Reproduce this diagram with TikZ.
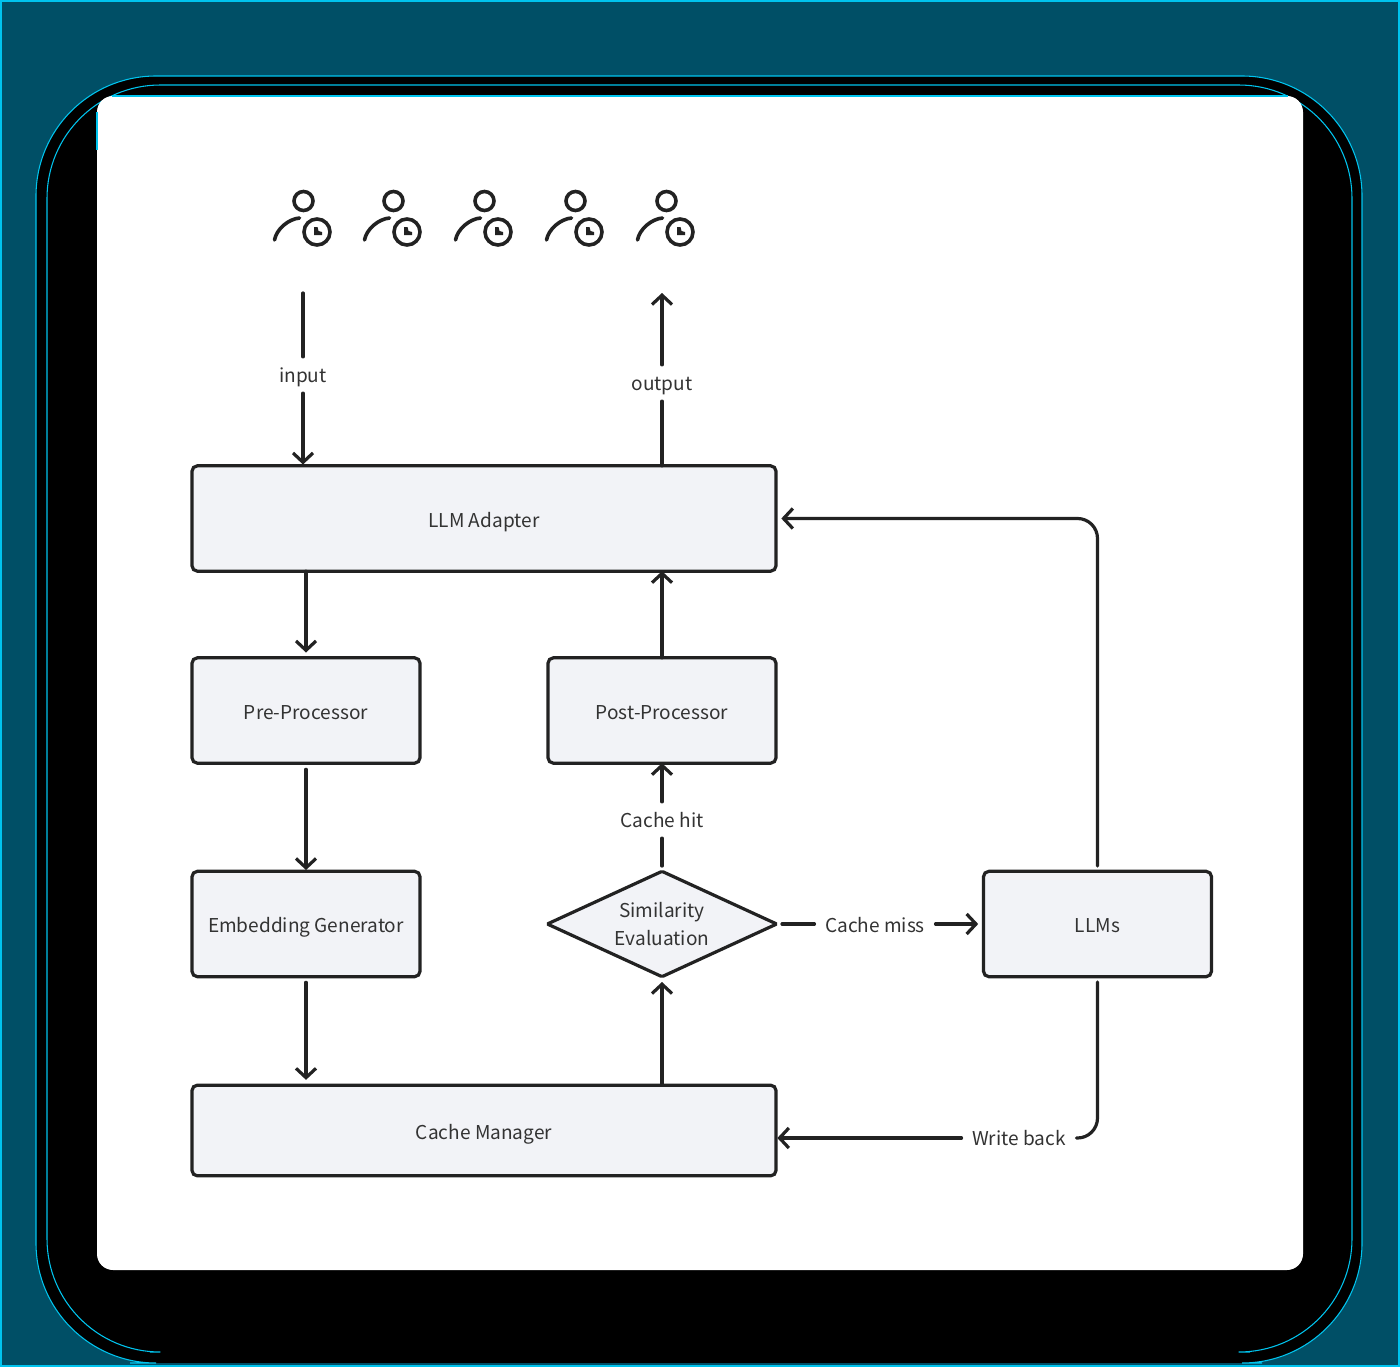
\documentclass[tikz,border=0pt]{standalone}
\usepackage{fontspec}
\setmainfont{Noto Sans CJK SC}
\usetikzlibrary{arrows.meta,shapes.geometric}
\definecolor{boxfill}{HTML}{F2F3F7}
\definecolor{inkline}{HTML}{222222}
\definecolor{inktext}{HTML}{333333}
\definecolor{bandteal}{HTML}{004F66}
\definecolor{bandline}{HTML}{00C4EE}
\tikzset{
  block/.style={draw=inkline,fill=boxfill,line width=2.4pt,rounded corners=4pt,text=inktext,
    font=\fontsize{14.3}{20.5}\selectfont,outer sep=0pt,inner sep=0pt,minimum width=171pt,minimum height=79pt,
    text height=15.2pt,text depth=2pt},
  wideblock/.style={block,minimum width=438pt},
  decision/.style={block,diamond,rounded corners=1pt,aspect=2.15,minimum width=172pt,align=center,
    text height=,text depth=},
  tag/.style={text=inktext,font=\fontsize{14.3}{20}\selectfont,inner xsep=8pt,inner ysep=6pt,outer sep=0pt,
    text height=13.2pt,text depth=2pt},
  flow/.style={draw=inkline,line width=2.4pt,line cap=round},
  flowto/.style={flow,-{Straight Barb[length=7pt,width=15pt,line width=2.4pt]}},
  usericon/.pic={
    \draw[flow,line width=2.7pt] (0,0) circle (9.5);
    \draw[flow,line width=2.7pt] (-29,-39) .. controls (-27,-28) and (-15,-18) .. (-4,-17);
    \draw[flow,line width=2.7pt] (13.5,-31) circle (13);
    \fill[inkline] (10.5,-26) -- (10.5,-34) -- (18.5,-34) -- (18.5,-31) -- (15,-30) -- (14,-26) -- cycle;
  },
}
\begin{document}
\begin{tikzpicture}[x=0.75pt,y=0.75pt,yscale=-1]
\useasboundingbox (0,0) rectangle (1400,1367);

% backdrop
\fill[black] (0,0) rectangle (1400,1367);
\fill[bandteal,even odd rule] (0,0) rectangle (1400,1367) [rounded corners=90pt] (36,76) rectangle (1362,1363);
\draw[bandline,line width=0.8pt] (1,1) rectangle (1399,1366);
\draw[bandline,line width=0.8pt,rounded corners=90pt] (130,1363) -- (36,1363) -- (36,76) -- (1362,76) -- (1362,1363) -- (1262,1363);
\draw[bandline,line width=0.8pt,rounded corners=85pt] (150,1352) -- (47,1352) -- (47,85) -- (1352,85) -- (1352,1352) -- (1250,1352);
\fill[white,rounded corners=12pt] (97,96) rectangle (1303,1270);
\draw[bandline,line width=0.8pt] (97,150) -- (97,112) (112,96) -- (1288,96);

% users
\foreach \px in {303.5,393.5,484.5,575.5,666.5}
  \pic at (\px,201) {usericon};

% blocks
\node[wideblock] (adapter) at (484,518.5) {LLM Adapter};
\node[block] (pre) at (306,710.5) {Pre-Processor};
\node[block] (embed) at (306,924) {Embedding Generator};
\node[wideblock,minimum height=68pt] (manager) at (484,1130.5) {Cache Manager};
\node[block] (post) at (662,710.5) {Post-Processor};
\node[decision] (similarity) at (662,924) {Similarity\\Evaluation};
\node[block] (llms) at (1097.5,924) {LLMs};

% labels on the lines
\node[tag] (input) at (303,375) {input};
\node[tag] (output) at (662,383) {output};
\node[tag] (hit) at (662,820) {Cache hit};
\node[tag] (miss) at (875,925) {Cache miss};
\node[tag] (writeback) at (1019,1138) {Write back};
\coordinate (inputtop) at (303,293);
\coordinate (outputtop) at (662,293);
\coordinate (backcorner) at (1097.5,1138);

% left column
\draw[flow] (inputtop) -- (input);
\draw[flowto,shorten >=1pt] (input) -- (input |- adapter.north);
\draw[flowto] (pre.north |- adapter.south) -- ([yshift=-4pt]pre.north);
\draw[flowto,shorten <=4pt] (pre) ++(0,53.5) -- ([yshift=-1pt]embed.north);
\draw[flowto,shorten <=4pt] (embed) ++(0,53) -- ([yshift=-4pt]embed.south |- manager.north);

% right column
\draw[flow] (post.north |- adapter.north) -- (output);
\draw[flowto] (output) -- (outputtop);
\draw[flowto] (post.north) -- (post.north |- adapter.south);
\draw[flow,shorten <=4pt] (similarity.north) -- (hit);
\draw[flowto] (hit) -- (post.south);
\draw[flowto,shorten >=4pt] (similarity.south |- manager.north) -- (similarity.south);

% miss and write back
\draw[flow,shorten <=4pt] (similarity.east) -- (miss.west |- similarity.east);
\draw[flowto,shorten >=4pt] (miss.east |- llms.west) -- (llms.west);
\draw[flowto,rounded corners=15pt,shorten <=4pt,shorten >=4pt] (llms.north) -- (llms.north |- adapter.east) -- (adapter.east);
\draw[flow,rounded corners=15pt,shorten <=4pt] (llms.south) -- (backcorner) -- (writeback.east |- backcorner);
\draw[flowto,shorten >=1pt] (writeback.west |- backcorner) -- (manager.east |- backcorner);

\end{tikzpicture}
\end{document}
